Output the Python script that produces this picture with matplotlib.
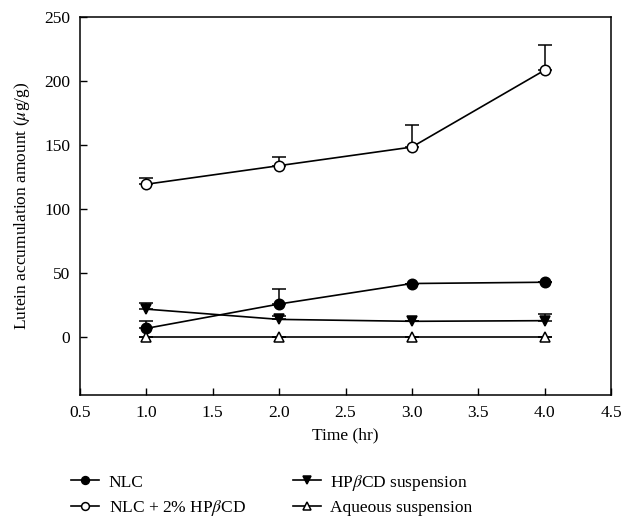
import numpy as np
import matplotlib
matplotlib.use('Agg')
import matplotlib.pyplot as plt

plt.rcParams['font.family'] = 'Liberation Serif'
plt.rcParams['mathtext.fontset'] = 'stix'

time = [1.0, 2.0, 3.0, 4.0]

nlc = [7, 26, 42, 43]
nlc_err = [5.5, 12, 0, 0]

nlc_cd = [119.5, 134, 148.5, 208.5]
nlc_cd_err = [4.5, 7, 17.5, 19.5]

hpcd = [22, 14, 12.5, 13]
hpcd_err = [4.5, 3, 0, 5]

aqueous = [0, 0, 0, 0]
aqueous_err = [0, 0, 0, 0]

labels = ['NLC', r'NLC + 2% HP$\beta$CD', r'HP$\beta$CD suspension', 'Aqueous suspension']

fig = plt.figure(figsize=(6.27, 5.27), dpi=100)
ax = fig.add_axes([0.1276, 0.2505, 0.8469, 0.7172])

series = [
    (nlc, nlc_err, 'o', 'black'),
    (nlc_cd, nlc_cd_err, 'o', 'white'),
    (hpcd, hpcd_err, 'v', 'black'),
    (aqueous, aqueous_err, '^', 'white'),
]

handles = []
for (vals, err, m, fc), lab in zip(series, labels):
    lower = np.zeros(len(err))
    ax.errorbar(time, vals, yerr=[lower, err], fmt='none', ecolor='black',
                elinewidth=1.1, capsize=5, capthick=1.1, zorder=2)
    h, = ax.plot(time, vals, color='black', linewidth=1.2, marker=m,
                 markersize=7.5, markerfacecolor=fc, markeredgecolor='black',
                 markeredgewidth=1.1, label=lab, zorder=3)
    handles.append(h)

ax.set_xlim(0.5, 4.5)
ax.set_ylim(-45, 250)
ax.set_xticks(np.arange(0.5, 4.6, 0.5))
ax.set_xticklabels(['%.1f' % t for t in np.arange(0.5, 4.6, 0.5)])
ax.set_yticks([0, 50, 100, 150, 200, 250])
ax.tick_params(direction='in', length=5, width=1, labelsize=12.5, pad=7)
for s in ax.spines.values():
    s.set_linewidth(1.1)

ax.set_xlabel('Time (hr)', fontsize=12.5, labelpad=5)
ax.set_ylabel(r'Lutein accumulation amount ($\mu$g/g)', fontsize=12.5, labelpad=9)

fig.legend(handles=handles, loc='lower left', bbox_to_anchor=(0.1, 0.0), ncol=2,
           frameon=False, fontsize=12.5, handlelength=1.6, handletextpad=0.55,
           columnspacing=2.7, labelspacing=0.45, borderaxespad=0.1, markerscale=0.75)

fig.savefig('out.png', dpi=100)
